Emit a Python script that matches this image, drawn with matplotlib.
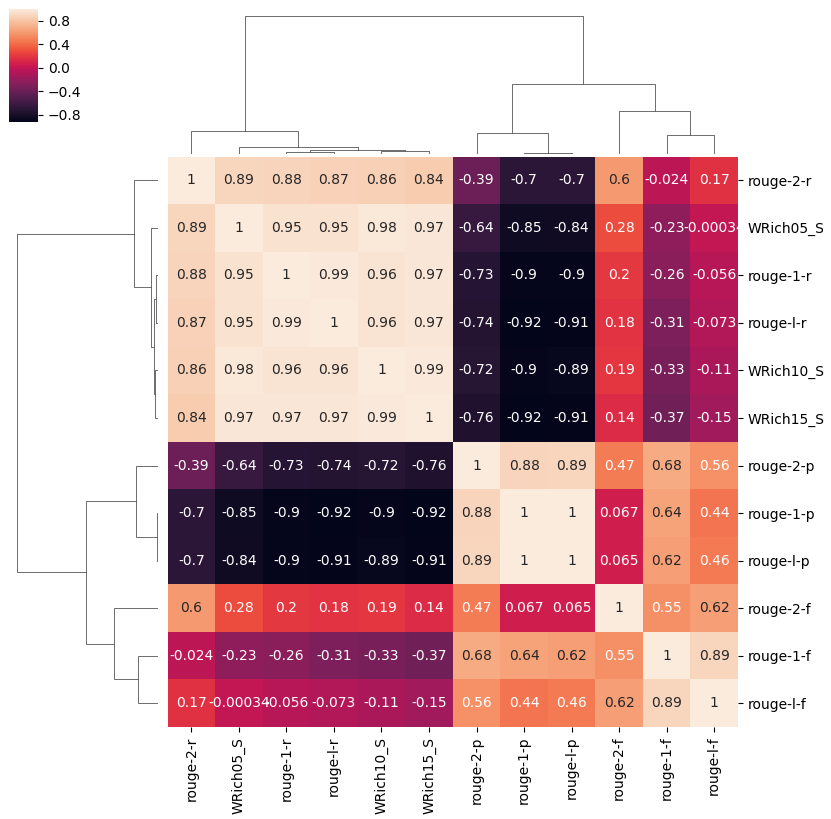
import numpy as np
import pandas as pd
import seaborn as sns
import matplotlib
matplotlib.use("Agg")
from matplotlib import pyplot as plt
from matplotlib.collections import LineCollection

# metric names, in the order they appear on the chart
labels = ['rouge-2-r', 'WRich05_S', 'rouge-1-r', 'rouge-l-r', 'WRich10_S',
          'WRich15_S', 'rouge-2-p', 'rouge-1-p', 'rouge-l-p', 'rouge-2-f',
          'rouge-1-f', 'rouge-l-f']

# correlation rows
r2r = [1, 0.89, 0.88, 0.87, 0.86, 0.84, -0.39, -0.7, -0.7, 0.6, -0.024, 0.17]
w05 = [0.89, 1, 0.95, 0.95, 0.98, 0.97, -0.64, -0.85, -0.84, 0.28, -0.23, -0.00034]
r1r = [0.88, 0.95, 1, 0.99, 0.96, 0.97, -0.73, -0.9, -0.9, 0.2, -0.26, -0.056]
rlr = [0.87, 0.95, 0.99, 1, 0.96, 0.97, -0.74, -0.92, -0.91, 0.18, -0.31, -0.073]
w10 = [0.86, 0.98, 0.96, 0.96, 1, 0.99, -0.72, -0.9, -0.89, 0.19, -0.33, -0.11]
w15 = [0.84, 0.97, 0.97, 0.97, 0.99, 1, -0.76, -0.92, -0.91, 0.14, -0.37, -0.15]
r2p = [-0.39, -0.64, -0.73, -0.74, -0.72, -0.76, 1, 0.88, 0.89, 0.47, 0.68, 0.56]
r1p = [-0.7, -0.85, -0.9, -0.92, -0.9, -0.92, 0.88, 1, 1, 0.067, 0.64, 0.44]
rlp = [-0.7, -0.84, -0.9, -0.91, -0.89, -0.91, 0.89, 1, 1, 0.065, 0.62, 0.46]
r2f = [0.6, 0.28, 0.2, 0.18, 0.19, 0.14, 0.47, 0.067, 0.065, 1, 0.55, 0.62]
r1f = [-0.024, -0.23, -0.26, -0.31, -0.33, -0.37, 0.68, 0.64, 0.62, 0.55, 1, 0.89]
rlf = [0.17, -0.00034, -0.056, -0.073, -0.11, -0.15, 0.56, 0.44, 0.46, 0.62, 0.89, 1]

cbar_ticks = [-0.8, -0.4, 0.0, 0.4, 0.8]

corr = pd.DataFrame([r2r, w05, r1r, rlr, w10, w15, r2p, r1p, rlp, r2f, r1f, rlf],
                    index=labels, columns=labels)


def average_linkage(X):
    # plain UPGMA on euclidean distances between rows
    n = len(X)
    d = np.sqrt(((X[:, None, :] - X[None, :, :]) ** 2).sum(-1))
    clusters = {i: [i] for i in range(n)}
    merges = []
    next_id = n
    while len(clusters) > 1:
        keys = list(clusters)
        best = None
        for a in range(len(keys)):
            for b in range(a + 1, len(keys)):
                dist = d[np.ix_(clusters[keys[a]], clusters[keys[b]])].mean()
                if best is None or dist < best[0]:
                    best = (dist, keys[a], keys[b])
        dist, ka, kb = best
        clusters[next_id] = clusters.pop(ka) + clusters.pop(kb)
        merges.append((ka, kb, dist))
        next_id += 1
    return merges


def dendro_segments(merges, n):
    members = {i: [i] for i in range(n)}
    for k, (a, b, _) in enumerate(merges):
        members[n + k] = members[a] + members[b]

    # leaf order: smaller original index goes first
    def walk(node):
        if node < n:
            return [node]
        a, b, _ = merges[node - n]
        if min(members[a]) > min(members[b]):
            a, b = b, a
        return walk(a) + walk(b)

    order = walk(n + len(merges) - 1)
    pos = {leaf: 5 + 10 * i for i, leaf in enumerate(order)}
    height = {i: 0.0 for i in range(n)}
    segs = []
    for k, (a, b, dist) in enumerate(merges):
        xa, xb = pos[a], pos[b]
        segs.append([(xa, height[a]), (xa, dist), (xb, dist), (xb, height[b])])
        pos[n + k] = (xa + xb) / 2.0
        height[n + k] = dist
    return order, segs, max(m[2] for m in merges)


merges = average_linkage(corr.values)
order, segs, top = dendro_segments(merges, len(labels))
data = corr.iloc[order, order]
n = len(labels)

W, H = 831, 819
fig = plt.figure(figsize=(W / 100, H / 100), dpi=100)


def px_axes(x0, y0, x1, y1):
    return fig.add_axes([x0 / W, 1 - y1 / H, (x1 - x0) / W, (y1 - y0) / H])


ax_heat = px_axes(167.5, 156.5, 738, 727)
ax_col = px_axes(167.5, 9, 738, 154)
ax_row = px_axes(10, 156.5, 158, 727)
ax_cbar = px_axes(9, 9, 38, 122)

tree_color = (.2, .2, .2)

# column dendrogram
ax_col.add_collection(LineCollection(segs, linewidths=.5, colors=tree_color))
ax_col.set_xlim(0, n * 10)
ax_col.set_ylim(0, top * 1.05)

# row dendrogram, rotated
row_segs = [[(y, x) for x, y in s] for s in segs]
ax_row.add_collection(LineCollection(row_segs, linewidths=.5, colors=tree_color))
ax_row.set_ylim(0, n * 10)
ax_row.set_xlim(0, top * 1.05)
ax_row.invert_xaxis()
ax_row.invert_yaxis()

for a in (ax_col, ax_row):
    a.set_xticks([])
    a.set_yticks([])
    for s in a.spines.values():
        s.set_visible(False)

sns.heatmap(data, ax=ax_heat, cbar_ax=ax_cbar, cmap="rocket", annot=True,
            fmt=".2g", annot_kws={"fontsize": 10},
            cbar_kws={"ticks": cbar_ticks})
ax_heat.yaxis.set_ticks_position('right')
ax_heat.yaxis.set_label_position('right')
ax_heat.set_xlabel('')
ax_heat.set_ylabel('')
plt.setp(ax_heat.get_yticklabels(), rotation=0)
plt.setp(ax_heat.get_xticklabels(), rotation=90)
ax_cbar.tick_params(labelsize=10)

fig.savefig("out.png", dpi=100)
